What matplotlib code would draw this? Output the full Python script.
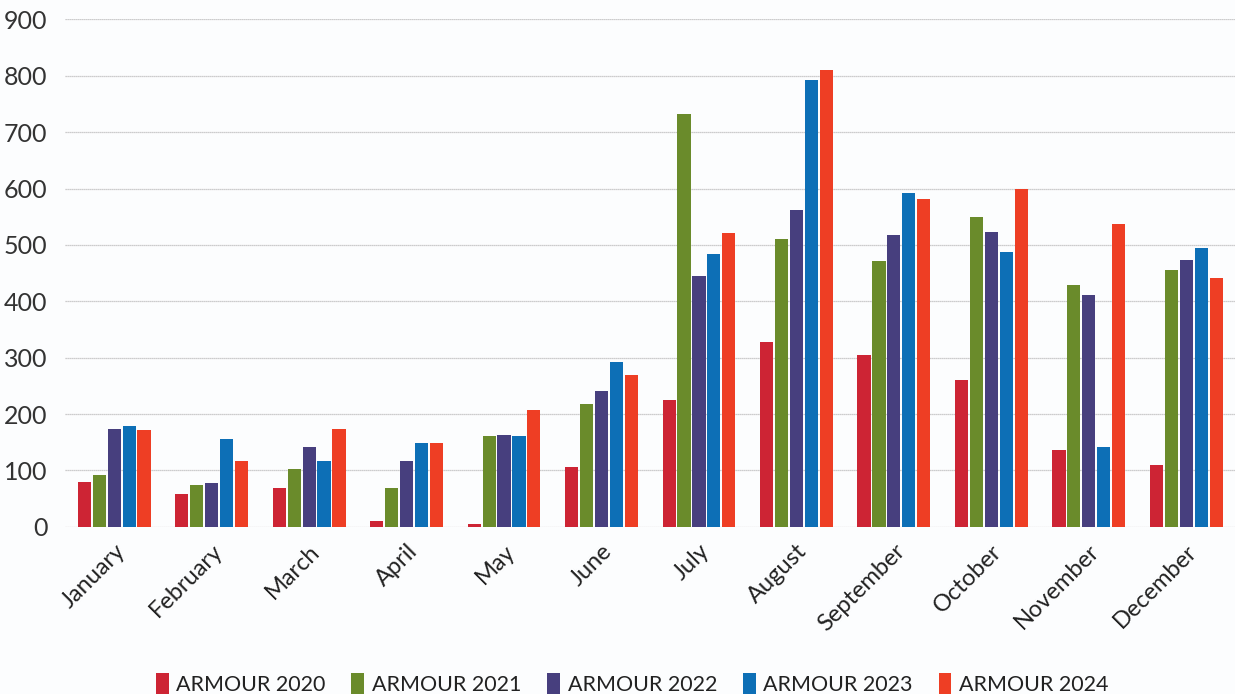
import matplotlib

matplotlib.use("Agg")
import matplotlib.pyplot as plt
import matplotlib.transforms as mtransforms
import numpy as np

months = ["January", "February", "March", "April", "May", "June", "July",
          "August", "September", "October", "November", "December"]
series_names = ["ARMOUR 2020", "ARMOUR 2021", "ARMOUR 2022", "ARMOUR 2023", "ARMOUR 2024"]
armour_2020 = [80, 58, 68, 10, 4, 106, 224, 328, 305, 261, 137, 109]
armour_2021 = [91, 74, 103, 68, 161, 217, 733, 510, 472, 550, 428, 455]
armour_2022 = [173, 78, 141, 116, 163, 241, 444, 562, 517, 523, 411, 474]
armour_2023 = [178, 155, 116, 149, 161, 292, 483, 793, 592, 488, 142, 495]
armour_2024 = [172, 116, 173, 149, 208, 269, 521, 811, 581, 599, 537, 441]
y_ticks = [0, 100, 200, 300, 400, 500, 600, 700, 800, 900]

colors = ["#cd2434", "#6a8b2b", "#473f7e", "#0d6fb6", "#ee3e24"]
series = [armour_2020, armour_2021, armour_2022, armour_2023, armour_2024]

plt.rcParams["font.family"] = ["Lato", "DejaVu Sans"]

fig = plt.figure(figsize=(12.35, 6.94), dpi=100)
fig.patch.set_facecolor("#fcfdfe")
ax = fig.add_axes([0.053, 0.241, 0.947, 0.731])
ax.set_facecolor("#fcfdfe")

x = np.arange(len(months))
step = 0.153
width = 0.135
for i, (name, vals, c) in enumerate(zip(series_names, series, colors)):
    ax.bar(x + (i - 2) * step, vals, width, color=c, label=name, zorder=3)

ax.set_xlim(-0.5, len(months) - 0.5)
ax.set_ylim(0, 900)
ax.set_yticks(y_ticks)
ax.yaxis.grid(True, color="#bdbdbd", linewidth=0.9, linestyle=(0, (1, 0.6)), zorder=0)
ax.set_axisbelow(True)
for s in ax.spines.values():
    s.set_visible(False)
ax.tick_params(axis="both", length=0)
ax.tick_params(axis="y", labelsize=18, labelcolor="#333333", pad=13)
ax.set_xticks(x)
ax.set_xticklabels(months, rotation=45, ha="right", rotation_mode="anchor",
                   fontsize=17, color="#222222")
# nudge the rotated month names a little to the right of their ticks
shift = mtransforms.ScaledTranslation(16 / 72, 0, fig.dpi_scale_trans)
for lbl in ax.get_xticklabels():
    lbl.set_transform(lbl.get_transform() + shift)
ax.tick_params(axis="x", pad=10)

ax.legend(loc="lower center", bbox_to_anchor=(0.5 - 0.053 / 2 + 0.011, -0.37), ncol=5,
          frameon=False, fontsize=15.5, handlelength=0.6, handleheight=1.1,
          handletextpad=0.35, columnspacing=1.2, labelcolor="#222222")

fig.savefig("out.png", dpi=100, facecolor=fig.get_facecolor())
